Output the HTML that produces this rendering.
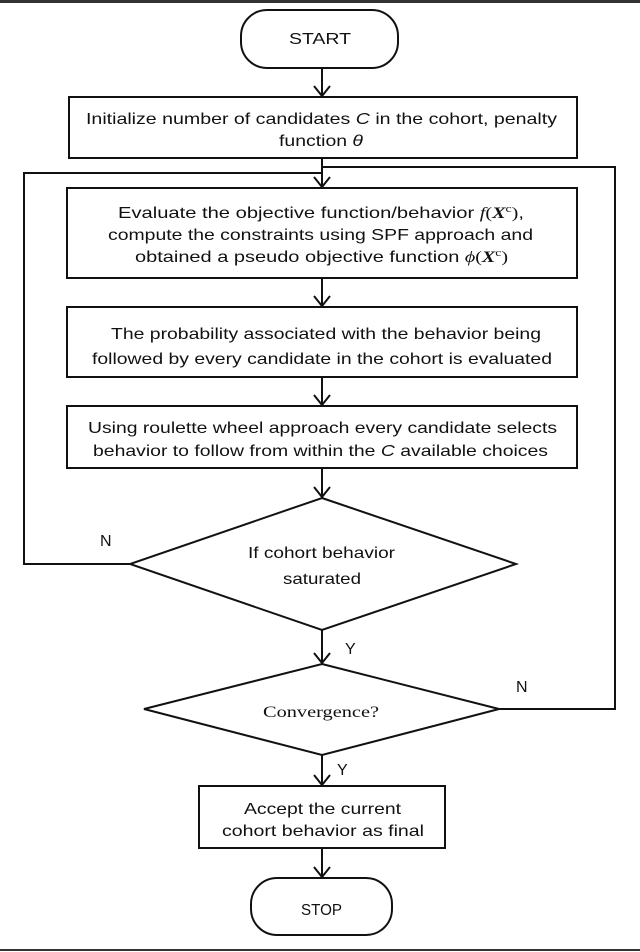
<!DOCTYPE html>
<html><head><meta charset="utf-8"><style>
html,body{margin:0;padding:0;background:#fff}
svg{display:block}
text{font-family:"Liberation Sans",Arial,sans-serif;font-size:16px;fill:#111}
.s{font-family:"Liberation Serif",serif}
</style></head><body>
<svg width="640" height="952" viewBox="0 0 640 952" xmlns="http://www.w3.org/2000/svg">
<rect x="0" y="0" width="640" height="3" fill="#333"/>
<rect x="0" y="949" width="640" height="2" fill="#333"/>
<g fill="none" stroke="#111" stroke-width="2">
<rect x="241" y="10" width="157" height="58" rx="26"/>
<rect x="69" y="97" width="508" height="61"/>
<rect x="67" y="188" width="510" height="90"/>
<rect x="67" y="307" width="510" height="70"/>
<rect x="67" y="406" width="510" height="62"/>
<polygon points="322,498 516,564 322,630 130,564"/>
<polygon points="322,664 499,709 322,755 144,709"/>
<rect x="199" y="786" width="246" height="62"/>
<rect x="251" y="878" width="141" height="57" rx="26"/>
<!-- connectors -->
<line x1="322" y1="68" x2="322" y2="96"/>
<line x1="322" y1="158" x2="322" y2="187"/>
<line x1="322" y1="278" x2="322" y2="306"/>
<line x1="322" y1="377" x2="322" y2="405"/>
<line x1="322" y1="468" x2="322" y2="497"/>
<line x1="322" y1="630" x2="322" y2="663"/>
<line x1="322" y1="755" x2="322" y2="785"/>
<line x1="322" y1="848" x2="322" y2="877"/>
<polyline points="130,564 24,564 24,173 322,173"/>
<polyline points="499,709 615,709 615,167 322,167"/>
<!-- arrowheads -->
<polyline points="314,86 322,96 330,86"/>
<polyline points="314,177 322,187 330,177"/>
<polyline points="314,296 322,306 330,296"/>
<polyline points="314,395 322,405 330,395"/>
<polyline points="314,487 322,497 330,487"/>
<polyline points="314,653 322,663 330,653"/>
<polyline points="314,775 322,785 330,775"/>
<polyline points="314,867 322,877 330,867"/>
</g>
<text x="289" y="44" textLength="62" lengthAdjust="spacingAndGlyphs">START</text>
<text x="86" y="124" textLength="471" lengthAdjust="spacingAndGlyphs">Initialize number of candidates  <tspan font-style="italic">C</tspan> in the cohort, penalty</text>
<text x="279" y="146" textLength="84" lengthAdjust="spacingAndGlyphs">function <tspan font-style="italic">θ</tspan></text>
<text x="118" y="218" textLength="406" lengthAdjust="spacingAndGlyphs">Evaluate the objective function/behavior <tspan class="s" font-style="italic">f</tspan><tspan class="s">(</tspan><tspan class="s" font-weight="bold" font-style="italic">X</tspan><tspan class="s" font-size="11" dy="-6">c</tspan><tspan class="s" dy="6">)</tspan>,</text>
<text x="108" y="240" textLength="425" lengthAdjust="spacingAndGlyphs">compute the constraints using SPF approach and</text>
<text x="135" y="262" textLength="373" lengthAdjust="spacingAndGlyphs">obtained a pseudo objective function <tspan class="s" font-style="italic">ϕ</tspan><tspan class="s">(</tspan><tspan class="s" font-weight="bold" font-style="italic">X</tspan><tspan class="s" font-size="11" dy="-6">c</tspan><tspan class="s" dy="6">)</tspan></text>
<text x="111" y="339" textLength="430" lengthAdjust="spacingAndGlyphs">The probability  associated with the behavior being</text>
<text x="92" y="364" textLength="460" lengthAdjust="spacingAndGlyphs">followed by every candidate in the cohort is evaluated</text>
<text x="88" y="433" textLength="469" lengthAdjust="spacingAndGlyphs">Using roulette wheel approach every candidate selects</text>
<text x="93" y="456" textLength="455" lengthAdjust="spacingAndGlyphs">behavior to follow from within the <tspan font-style="italic">C</tspan> available choices</text>
<text x="248" y="558" textLength="147" lengthAdjust="spacingAndGlyphs">If cohort behavior</text>
<text x="283" y="584" textLength="78" lengthAdjust="spacingAndGlyphs">saturated</text>
<text x="100" y="546">N</text>
<text x="345" y="654" font-size="14">Y</text>
<text class="s" x="263" y="717" textLength="116" lengthAdjust="spacingAndGlyphs">Convergence?</text>
<text x="516" y="692">N</text>
<text x="337" y="775" font-size="14">Y</text>
<text x="244" y="814" textLength="157" lengthAdjust="spacingAndGlyphs">Accept the current</text>
<text x="222" y="836" textLength="202" lengthAdjust="spacingAndGlyphs">cohort behavior as final</text>
<text x="301" y="915" font-size="14" textLength="41" lengthAdjust="spacingAndGlyphs">STOP</text>
</svg>
</body></html>
